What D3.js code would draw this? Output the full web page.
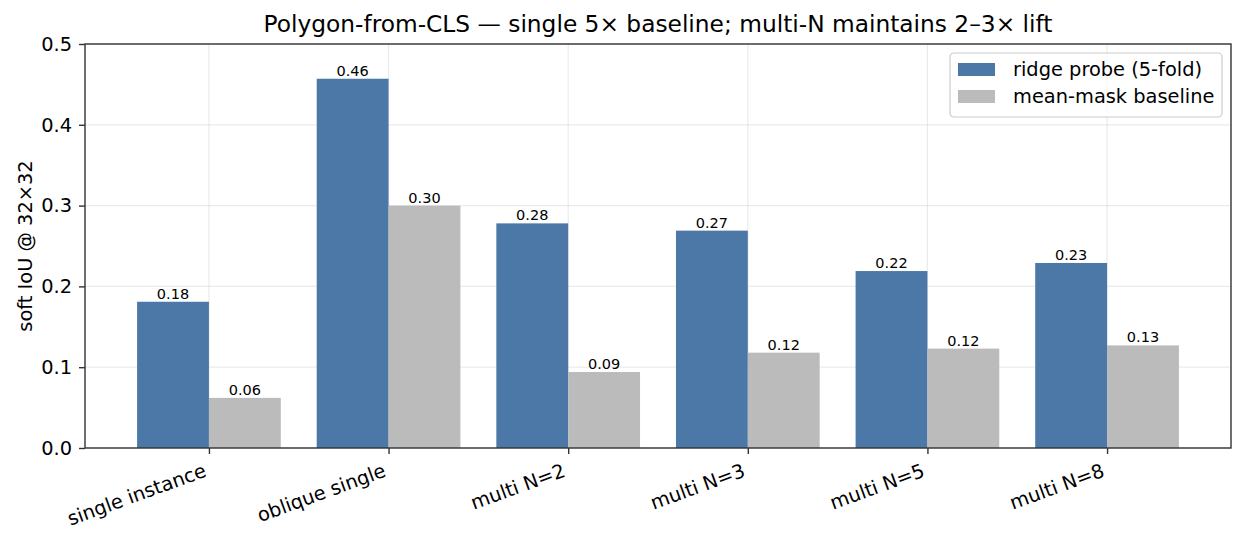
<!DOCTYPE html>
<html>
<head>
<meta charset="utf-8">
<script src="https://cdn.jsdelivr.net/npm/d3@7"></script>
<style>
  body { margin: 0; background: #fff; }
  text { font-family: "DejaVu Sans", sans-serif; fill: #000; }
</style>
</head>
<body>
<div id="chart"></div>
<script>
// data
const categories = ["single instance", "oblique single", "multi N=2", "multi N=3", "multi N=5", "multi N=8"]
const ridgeProbe = [0.181, 0.457, 0.278, 0.269, 0.219, 0.229]
const meanMask = [0.062, 0.300, 0.094, 0.118, 0.123, 0.127]
const seriesNames = ["ridge probe (5-fold)", "mean-mask baseline"]
const yTicks = [0.0, 0.1, 0.2, 0.3, 0.4, 0.5]

const width = 1245, height = 544
const margin = { top: 44, right: 14, bottom: 96, left: 85 }
const innerWidth = width - margin.left - margin.right
const innerHeight = height - margin.top - margin.bottom
const colors = ["#4c78a8", "#bbbbbb"]

const svg = d3.select('#chart').append('svg')
    .attr('width', width).attr('height', height)

const g = svg.append('g')
    .attr('transform', `translate(${margin.left}, ${margin.top})`)

// matplotlib-like linear x: bars at 0..5, width 0.4 each, 5% margins
const x = d3.scaleLinear()
    .domain([-0.4 - 0.29, categories.length - 1 + 0.4 + 0.29])
    .range([0, innerWidth])
const y = d3.scaleLinear().domain([0, 0.5]).range([innerHeight, 0])
const barW = 0.4

// grid
g.append('g').selectAll('line').data(yTicks).enter().append('line')
    .attr('x1', 0).attr('x2', innerWidth)
    .attr('y1', d => y(d)).attr('y2', d => y(d))
    .attr('stroke', '#b0b0b0').attr('stroke-opacity', 0.25).attr('stroke-width', 1.2)
g.append('g').selectAll('line').data(categories).enter().append('line')
    .attr('x1', (d, i) => x(i)).attr('x2', (d, i) => x(i))
    .attr('y1', 0).attr('y2', innerHeight)
    .attr('stroke', '#b0b0b0').attr('stroke-opacity', 0.25).attr('stroke-width', 1.2)

// bars
const series = [ridgeProbe, meanMask]
series.forEach((vals, s) => {
    const offset = s === 0 ? -barW : 0
    g.append('g').selectAll('rect').data(vals).enter().append('rect')
        .attr('x', (d, i) => x(i + offset))
        .attr('y', d => y(d))
        .attr('width', x(barW) - x(0))
        .attr('height', d => innerHeight - y(d))
        .attr('fill', colors[s])
    g.append('g').selectAll('text').data(vals).enter().append('text')
        .attr('x', (d, i) => x(i + offset + barW / 2))
        .attr('y', d => y(d) - 3)
        .attr('text-anchor', 'middle')
        .style('font-size', '14.5px')
        .text(d => d.toFixed(2))
})

// axes
const yAxis = g.append('g').call(d3.axisLeft(y).tickValues(yTicks).tickFormat(d3.format('.1f')).tickSize(6).tickPadding(7))
const xAxis = g.append('g').attr('transform', `translate(0, ${innerHeight})`)
    .call(d3.axisBottom(x).tickValues(d3.range(categories.length)).tickFormat(i => categories[i]).tickSize(6))
;[yAxis, xAxis].forEach(a => {
    a.select('.domain').remove()
    a.selectAll('.tick line').attr('stroke', '#333').attr('stroke-width', 1.4)
    a.selectAll('text').style('font-size', '19.4px').attr('fill', '#000')
})
xAxis.selectAll('.tick text')
    .attr('text-anchor', 'end')
    .attr('y', 0).attr('dy', 0)
    .attr('transform', 'translate(-2, 28) rotate(-20)')

// frame
g.append('rect').attr('width', innerWidth).attr('height', innerHeight)
    .attr('fill', 'none').attr('stroke', '#333').attr('stroke-width', 1.4)

// title and y label
svg.append('text')
    .attr('x', margin.left + innerWidth / 2).attr('y', 32)
    .attr('text-anchor', 'middle').style('font-size', '23.3px')
    .text('Polygon-from-CLS — single 5× baseline; multi-N maintains 2–3× lift')
svg.append('text')
    .attr('transform', `translate(32, ${margin.top + innerHeight / 2}) rotate(-90)`)
    .attr('text-anchor', 'middle').style('font-size', '19.4px')
    .text('soft IoU @ 32×32')

// legend
const lg = svg.append('g').attr('transform', 'translate(950, 53)')
lg.append('rect').attr('width', 272).attr('height', 64).attr('rx', 4)
    .attr('fill', '#fff').attr('fill-opacity', 0.8)
    .attr('stroke', '#cccccc').attr('stroke-width', 1.2)
seriesNames.forEach((name, i) => {
    lg.append('rect').attr('x', 8).attr('y', 10 + i * 27).attr('width', 37).attr('height', 13)
        .attr('fill', colors[i])
    lg.append('text').attr('x', 63).attr('y', 23 + i * 27)
        .style('font-size', '19.4px').text(name)
})
</script>
</body>
</html>
